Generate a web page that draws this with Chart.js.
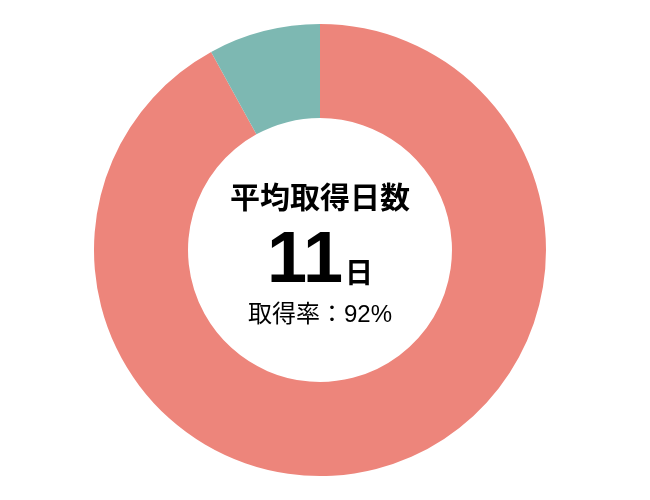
<!DOCTYPE html>
<html>
<head>
<meta charset="utf-8">
<script src="https://cdn.jsdelivr.net/npm/chart.js@4"></script>
<style>
    html, body { margin: 0; padding: 0; background: #fff; }
    #wrap { width: 650px; height: 500px; }
</style>
</head>
<body>
<div id="wrap"><canvas id="leaveChart"></canvas></div>
<script>
// data
const labels = ['取得', '未取得'];
const values = [92, 8];
const colors = ['#ED857B', '#7DB8B2'];

const centerTitle = '平均取得日数';
const centerValue = '11';
const centerUnit = '日';
const centerRate = '取得率：92%';

// center text
const centerText = {
    id: 'centerText',
    afterDraw(chart) {
        const ctx = chart.ctx;
        const meta = chart.getDatasetMeta(0).data[0];
        const cx = meta.x;
        const cy = meta.y;
        ctx.save();
        ctx.fillStyle = '#000';
        ctx.textBaseline = 'middle';
        ctx.textAlign = 'center';

        ctx.font = "bold 30px 'Noto Sans CJK JP', sans-serif";
        ctx.fillText(centerTitle, cx, cy - 53);

        // big number + unit
        ctx.font = "bold 72px 'Liberation Sans', sans-serif";
        const numW = ctx.measureText(centerValue).width;
        ctx.font = "bold 28px 'Noto Sans CJK JP', sans-serif";
        const unitW = ctx.measureText(centerUnit).width;
        const startX = cx - (numW + unitW + 2) / 2;
        ctx.textAlign = 'left';
        ctx.textBaseline = 'alphabetic';
        ctx.font = "bold 72px 'Liberation Sans', sans-serif";
        ctx.fillText(centerValue, startX, cy + 32);
        ctx.font = "bold 28px 'Noto Sans CJK JP', sans-serif";
        ctx.fillText(centerUnit, startX + numW + 2, cy + 33);

        ctx.textAlign = 'center';
        ctx.textBaseline = 'middle';
        ctx.font = "24px 'Liberation Sans', 'Noto Sans CJK JP', sans-serif";
        ctx.fillText(centerRate, cx, cy + 65);
        ctx.restore();
    }
};

const ctx = document.getElementById('leaveChart').getContext('2d');
new Chart(ctx, {
    type: 'doughnut',
    data: {
        labels: labels,
        datasets: [{
            data: values,
            backgroundColor: colors,
            borderWidth: 0
        }]
    },
    options: {
        responsive: true,
        maintainAspectRatio: false,
        animation: false,
        cutout: '58.4%',
        layout: { padding: { top: 24, bottom: 24, left: 19, right: 29 } },
        plugins: {
            legend: { display: false },
            tooltip: { enabled: false }
        }
    },
    plugins: [centerText]
});
</script>
</body>
</html>
